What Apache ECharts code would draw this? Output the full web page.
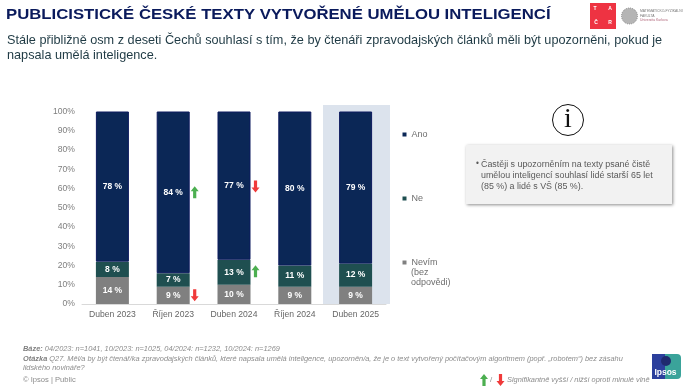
<!DOCTYPE html>
<html>
<head>
<meta charset="utf-8">
<script src="https://cdn.jsdelivr.net/npm/echarts@6/dist/echarts.min.js"></script>
<style>
html, body { margin: 0; padding: 0; background: #fff; }
#chart { width: 700px; height: 392px; }
</style>
</head>
<body>
<div id="chart"></div>
<script>
var months = ['Duben 2023', 'Říjen 2023', 'Duben 2024', 'Říjen 2024', 'Duben 2025'];
var ano = [78, 84, 77, 80, 79];
var ne = [8, 7, 13, 11, 12];
var nevim = [14, 9, 10, 9, 9];
var arrowsUp = [['Říjen 2023', 58], ['Duben 2024', 17]];
var arrowsDown = [['Duben 2024', 61], ['Říjen 2023', 4.5]];

var font = '"Liberation Sans", Arial, sans-serif';
var upPath = 'path://M4 0 L8 5 L5.6 5 L5.6 12 L2.4 12 L2.4 5 L0 5 Z';
var downPath = 'path://M2.4 0 L5.6 0 L5.6 7 L8 7 L4 12 L0 7 L2.4 7 Z';
var upPoints = [[4, 0], [8, 5], [5.6, 5], [5.6, 12], [2.4, 12], [2.4, 5], [0, 5]];
var downPoints = [[2.4, 0], [5.6, 0], [5.6, 7], [8, 7], [4, 12], [0, 7], [2.4, 7]];

function barSeries(name, data, color, border) {
    return {
        name: name,
        type: 'bar',
        stack: 'total',
        data: data,
        barWidth: 33,
        itemStyle: { color: color, borderColor: border, borderWidth: border ? 1 : 0 },
        label: {
            show: true,
            position: 'inside',
            formatter: '{c} %',
            color: '#fff',
            fontFamily: font,
            fontSize: 8.5,
            fontWeight: 'bold'
        }
    };
}

function arrowSeries(name, data, path, color) {
    return {
        name: name,
        type: 'scatter',
        data: data,
        symbol: path,
        symbolSize: [8, 12],
        symbolOffset: [21.5, 0],
        itemStyle: { color: color, opacity: 1 },
        silent: true,
        z: 5
    };
}

function text(x, y, str, size, color) {
    return { type: 'text', x: x, y: y, style: { text: str, font: size + 'px ' + font, fill: color } };
}

var graphics = [
    // highlight behind last bar
    { type: 'rect', z: 0, shape: { x: 323, y: 105, width: 67, height: 199 }, style: { fill: '#dce3ed' } },

    // headline
    { type: 'text', x: 6, y: 7, scaleX: 1.115, style: { text: 'PUBLICISTICKÉ ČESKÉ TEXTY VYTVOŘENÉ UMĚLOU INTELIGENCÍ', font: 'bold 15px ' + font, fill: '#0a1a5c' } },
    text(7, 34, 'Stále přibližně osm z deseti Čechů souhlasí s tím, že by čtenáři zpravodajských článků měli být upozorněni, pokud je', 12.7, '#1f3a44'),
    text(7, 49, 'napsala umělá inteligence.', 12.7, '#1f3a44'),

    // TACR logo
    { type: 'rect', shape: { x: 590, y: 3, width: 26, height: 26 }, style: { fill: '#ee3342' } },
    { type: 'text', x: 595, y: 9, style: { text: 'T', font: 'bold 5px ' + font, fill: '#fff', align: 'center', verticalAlign: 'middle' } },
    { type: 'text', x: 610, y: 9, style: { text: 'A', font: 'bold 5px ' + font, fill: '#fff', align: 'center', verticalAlign: 'middle' } },
    { type: 'text', x: 596, y: 23, style: { text: 'Č', font: 'bold 5px ' + font, fill: '#fff', align: 'center', verticalAlign: 'middle' } },
    { type: 'text', x: 610, y: 23, style: { text: 'R', font: 'bold 5px ' + font, fill: '#fff', align: 'center', verticalAlign: 'middle' } },

    // faculty logo
    { type: 'circle', shape: { cx: 629.5, cy: 16, r: 8 }, style: { fill: '#b5b5b5', stroke: '#8a8a8a', lineWidth: 1, lineDash: [1, 1] } },
    text(640, 10, 'MATEMATICKO-FYZIKÁLNÍ', 3.4, '#777'),
    text(640, 15, 'FAKULTA', 3.4, '#777'),
    text(640, 19, 'Univerzita Karlova', 3.4, '#b0667a'),

    // info icon and note
    { type: 'circle', shape: { cx: 568, cy: 120, r: 15.5 }, style: { fill: '#fff', stroke: '#111', lineWidth: 1 } },
    { type: 'text', x: 568, y: 120, style: { text: 'i', font: '28px "Liberation Serif", serif', fill: '#111', align: 'center', verticalAlign: 'middle' } },
    { type: 'rect', shape: { x: 466, y: 145, width: 206, height: 59 }, style: { fill: '#f2f2f2', shadowBlur: 3, shadowColor: 'rgba(0,0,0,0.45)', shadowOffsetX: 1, shadowOffsetY: 1 } },
    text(476, 160, '•', 8.3, '#595959'),
    text(481, 160, 'Častěji s upozorněním na texty psané čistě', 8.9, '#595959'),
    text(481, 171, 'umělou inteligencí souhlasí lidé starší 65 let', 8.9, '#595959'),
    text(481, 182, '(85 %) a lidé s VŠ (85 %).', 8.9, '#595959'),

    // rest of the legend entry
    text(411, 268, '(bez', 9, '#6e6e6e'),
    text(411, 278, 'odpovědi)', 9, '#6e6e6e'),

    // footer
    { type: 'text', x: 23, y: 345, style: {
        text: '{b|Báze:} 04/2023: n=1041, 10/2023: n=1025, 04/2024: n=1232, 10/2024: n=1269',
        rich: { b: { font: 'italic bold 7.4px ' + font, fill: '#7f7f7f' } },
        font: 'italic 7.4px ' + font, fill: '#8c8c8c'
    } },
    { type: 'text', x: 23, y: 355, style: {
        text: '{b|Otázka} Q27. Měl/a by být čtenář/ka zpravodajských článků, které napsala umělá inteligence, upozorněn/a, že je o text vytvořený počítačovým algoritmem (popř. „robotem“) bez zásahu',
        rich: { b: { font: 'italic bold 7.4px ' + font, fill: '#7f7f7f' } },
        font: 'italic 7.4px ' + font, fill: '#8c8c8c'
    } },
    { type: 'text', x: 23, y: 364, style: { text: 'lidského novináře?', font: 'italic 7.4px ' + font, fill: '#8c8c8c' } },
    text(23, 376, '© Ipsos | Public', 7.6, '#8c8c8c'),

    // significance key
    { type: 'polygon', x: 480, y: 374, shape: { points: upPoints }, style: { fill: '#4caf50' } },
    text(490, 376, '/', 8, '#8c8c8c'),
    { type: 'polygon', x: 496.5, y: 374, shape: { points: downPoints }, style: { fill: '#f03a3a' } },
    { type: 'text', x: 507, y: 376, style: { text: 'Signifikantně vyšší / nižší oproti minulé vlně', font: 'italic 7.4px ' + font, fill: '#8c8c8c' } },

    // Ipsos logo
    { type: 'rect', shape: { x: 652, y: 354, width: 29, height: 25, r: [1, 4, 4, 1] }, style: { fill: '#3aa39a' } },
    { type: 'rect', shape: { x: 652, y: 354, width: 13, height: 25 }, style: { fill: '#2c3f9c' } },
    { type: 'circle', shape: { cx: 666, cy: 361, r: 5 }, style: { fill: '#1f2a6e' } },
    { type: 'text', x: 665.5, y: 373, style: { text: 'Ipsos', font: 'bold 8.5px ' + font, fill: '#fff', align: 'center', verticalAlign: 'middle' } }
];

var chart = echarts.init(document.getElementById('chart'), null, { renderer: 'canvas' });
chart.setOption({
    animation: false,
    backgroundColor: '#fff',
    grid: { left: 82, top: 111.5, width: 304, height: 192.5, containLabel: false },
    xAxis: {
        type: 'category',
        data: months,
        axisLine: { lineStyle: { color: '#d9d9d9' } },
        axisTick: { show: false },
        axisLabel: { color: '#666', fontFamily: font, fontSize: 8.6, margin: 6, interval: 0 }
    },
    yAxis: {
        type: 'value',
        min: 0,
        max: 100,
        interval: 10,
        axisLine: { show: false },
        axisTick: { show: false },
        splitLine: { show: false },
        axisLabel: { color: '#7f7f7f', fontFamily: font, fontSize: 8.6, margin: 7, formatter: '{value}%' }
    },
    legend: {
        data: ['Ano', 'Ne', 'Nevím'],
        orient: 'vertical',
        left: 397.5,
        top: 125,
        itemWidth: 4,
        itemHeight: 4,
        itemGap: 55,
        icon: 'rect',
        selectedMode: false,
        itemStyle: { borderWidth: 0 },
        textStyle: { color: '#6e6e6e', fontFamily: font, fontSize: 9 }
    },
    graphic: { elements: graphics },
    series: [
        barSeries('Nevím', nevim, '#808080'),
        barSeries('Ne', ne, '#1f4f50'),
        barSeries('Ano', ano, '#0b2756', '#0d1a5e'),
        arrowSeries('Výše', arrowsUp, upPath, '#4caf50'),
        arrowSeries('Níže', arrowsDown, downPath, '#f03a3a')
    ]
});
</script>
</body>
</html>
